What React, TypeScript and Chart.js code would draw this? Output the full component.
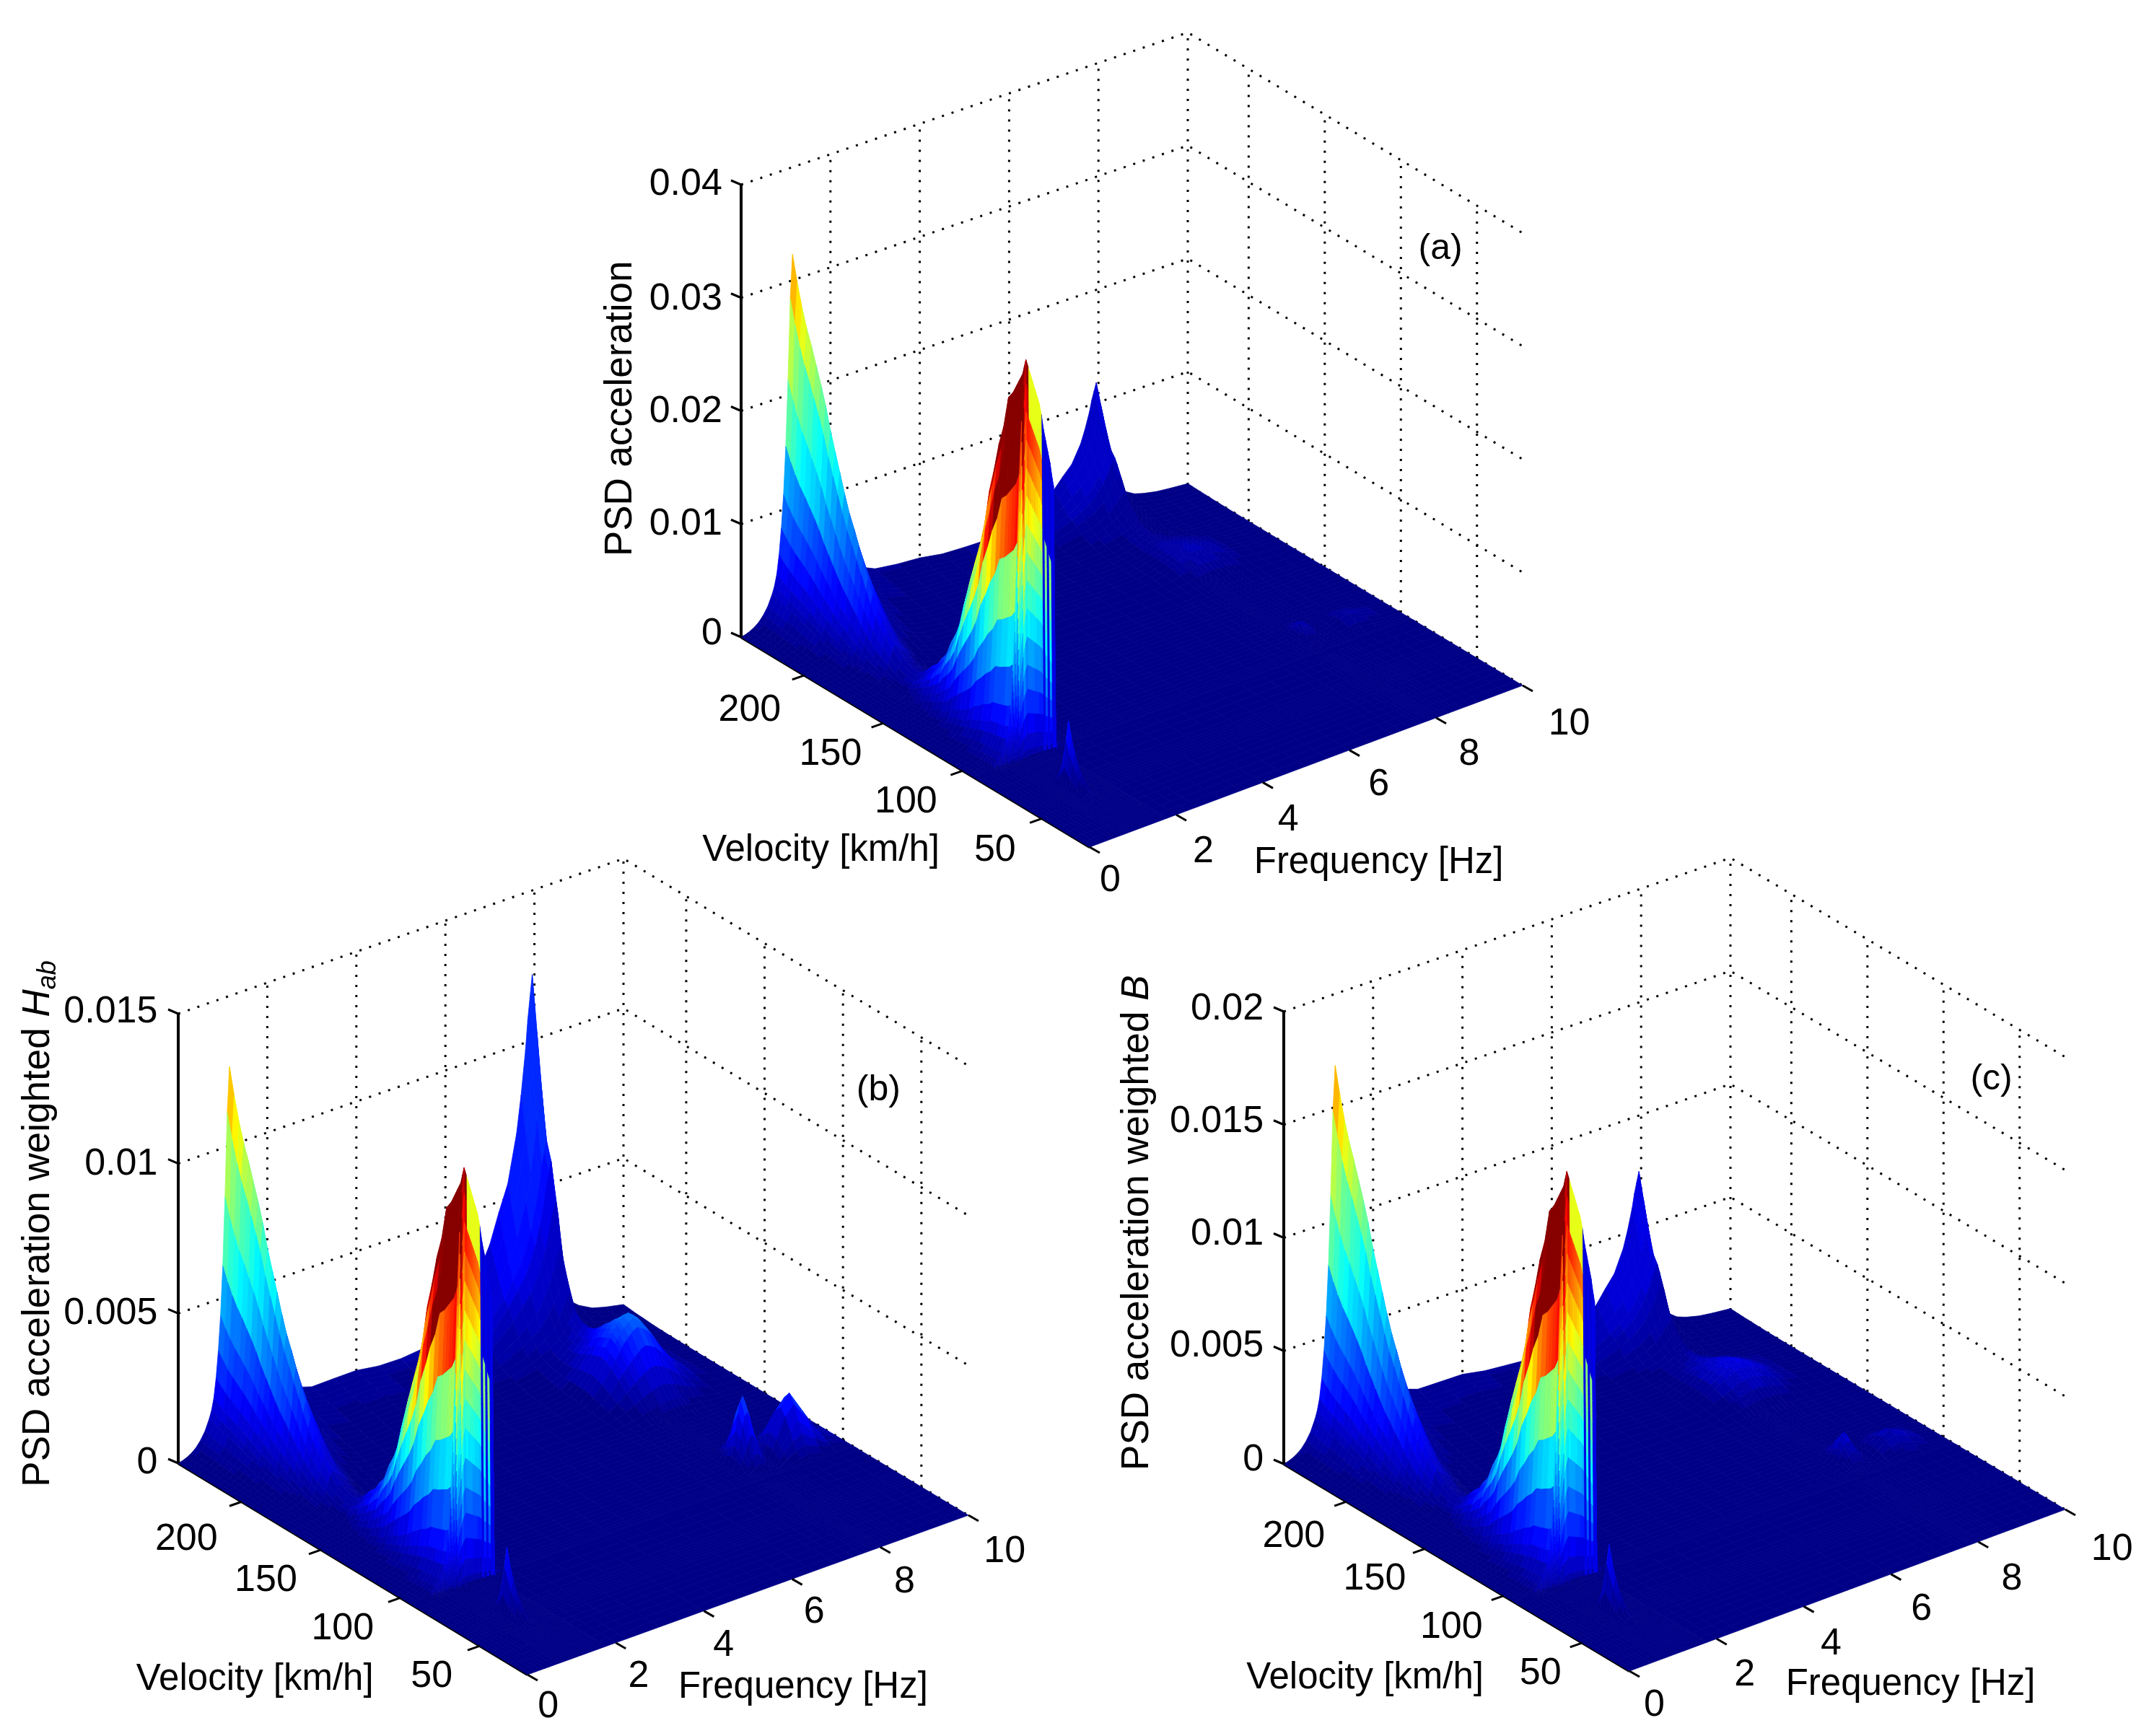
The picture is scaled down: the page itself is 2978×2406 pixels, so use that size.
import React, { useEffect, useRef } from "react";
import { Chart, registerables, ScatterController } from "chart.js";

Chart.register(...registerables);

const W = 2978;
const H = 2406;
const S = W / 1568;
const FONT = '"Liberation Sans", Arial, sans-serif';

/* ---------- mesh ---------- */
const freqGrid = [
  0, 0.1, 0.2, 0.3, 0.4, 0.5, 0.6, 0.7, 0.75, 0.8, 0.85, 0.9, 0.95, 1, 1.05, 1.1, 1.15, 1.2, 1.25, 1.3, 1.35, 1.4, 1.45, 1.5, 1.55, 1.6, 1.65, 1.7, 1.75, 1.78, 1.8,
  2, 2.25, 2.5, 3, 3.5, 4, 4.5, 5, 5.5, 6, 6.5, 7,
  7.2, 7.4, 7.6, 7.7, 7.8, 7.85, 7.9, 7.95, 8, 8.05, 8.1, 8.2, 8.3, 8.41, 8.5, 8.6, 8.8, 9, 9.3, 9.6, 10,
];
const cliffRows = [91.9, 91.8, 91.7, 91.6, 91.5, 91.4, 91.3, 91.2, 91.1, 91, 90.9, 90.8, 90.7, 90.6, 90.5, 90.4];
const velocityGrid = [
  240, 237, 234, 231, 228, 225, 222, 219, 216, 213, 210, 207, 204, 201, 198, 195, 192, 189, 186, 183, 180, 175, 170, 165, 160,
  157, 154, 151, 148, 145, 142, 139, 136, 133, 130, 127, 124, 121, 118, 115, 112, 109, 106, 103, 100, 98, 96, 94, 93, 92,
  ...cliffRows,
  90, 85, 80, 75, 70, 67, 65, 63, 61, 59, 57, 55, 52, 48, 44, 40, 35, 30, 25, 20,
];

/* ---------- frequency profiles (start at the named frequency) ---------- */
const ridge1Freq = [0, 0.003, 0.008, 0.015, 0.025, 0.04, 0.06, 0.09, 0.11, 0.14, 0.19, 0.26, 0.35, 0.48, 0.66, 0.88, 1, 0.93, 0.86, 0.8, 0.74, 0.68, 0.62, 0.57, 0.52, 0.47, 0.42, 0.38, 0.34, 0.31, 0.29, 0.2, 0.12, 0.08, 0.04, 0.02, 0.01];
const ridge2Freq = [0, 0.003, 0.006, 0.01, 0.015, 0.025, 0.04, 0.07, 0.1, 0.15, 0.25, 0.38, 0.55, 0.72, 0.85, 0.94, 1, 0.98, 0.96, 0.94, 0.92, 0.9, 0.88, 0.85, 0.81, 0.78, 0.75, 0.72, 0.68, 0.66, 0.02, 0.01, 0.005];
const ridge3Freq = [0.005, 0.015, 0.04, 0.08, 0.16, 0.3, 0.38, 0.45, 0.58, 0.68, 0.8, 0.88, 0.94, 1, 0.9, 0.75, 0.6, 0.4, 0.28, 0.2, 0.15, 0.11, 0.07, 0.05, 0.03, 0.02, 0.01];
const ridge3FreqStart = 4.5;
const plateauFreq = [0.01, 0.01, 0.01, 0.01, 0.01, 0.01, 0.01, 0.02, 0.05, 0.12, 0.25, 0.55, 0.85, 1, 0.95, 0.8, 0.55, 0.3, 0.12, 0.03];
const plateauFreqStart = 1.5;
const humpFreq = [0.05, 0.15, 0.3, 0.5, 0.6, 0.7, 0.75, 0.8, 0.84, 0.88, 0.92, 0.96, 1, 0.96, 0.9, 0.82, 0.72, 0.5, 0.3, 0.12, 0.03];
const humpFreqStart = 7;
const sharpFreq = [0, 0.15, 0.3, 0.5, 0.75, 0.93, 1, 0.9, 0.55, 0.28, 0.1, 0.03];
const sharpFreqStart = 7.7;
const sideFreq = [0, 0.2, 0.4, 0.8, 1, 0.6, 0.2];
const sideFreqStart = 8.41;
const spikeFreq = [0, 0.3, 0.7, 1, 0.75, 0.45, 0.2, 0.08];
const spikeFreqStart = 1;

/* ---------- velocity profiles (start at the named velocity) ---------- */
const ridge1Vel = [1, 0.93, 0.87, 0.82, 0.78, 0.735, 0.69, 0.64, 0.58, 0.53, 0.48, 0.43, 0.385, 0.35, 0.31, 0.275, 0.235, 0.2, 0.17, 0.145, 0.125, 0.095, 0.07, 0.05, 0.035, 0.028, 0.022, 0.017, 0.013, 0.01, 0.007, 0.005, 0.003, 0.001];
const ridge2Vel = [0.003, 0.006, 0.012, 0.025, 0.04, 0.06, 0.08, 0.095, 0.12, 0.14, 0.18, 0.21, 0.25, 0.315, 0.37, 0.42, 0.47, 0.53, 0.62, 0.68, 0.75, 0.8, 0.88, 0.9, 0.92, 0.94, 0.96, 0.98, 1, 0.94, 0.87, 0.8, 0.73, 0.66, 0.59, 0.52, 0.45, 0.38, 0.31, 0.24, 0.18, 0.12, 0.07, 0.03, 0.015, 0.008, 0.004, 0.002];
const ridge2VelStart = 175;
const ridge3Vel = [1, 0.85, 0.7, 0.57, 0.52, 0.42, 0.3, 0.24, 0.19, 0.15, 0.12, 0.1, 0.08, 0.065, 0.05, 0.04, 0.03, 0.02, 0.015, 0.01, 0.005];
const plateauVel = [1, 0.95, 0.9, 0.85, 0.8, 0.76, 0.72, 0.68, 0.64, 0.6, 0.56, 0.52, 0.48, 0.44, 0.4, 0.36, 0.32, 0.28, 0.25, 0.22, 0.19, 0.15, 0.12, 0.09, 0.06, 0.04, 0.02, 0.01];
const humpVel = [0.1, 0.18, 0.28, 0.4, 0.55, 0.7, 0.82, 0.92, 1, 0.97, 0.9, 0.72, 0.5, 0.3, 0.15, 0.08, 0.03];
const humpVelStart = 210;
const sharpVel = [0.08, 0.2, 0.4, 0.75, 1, 0.8, 0.5, 0.25, 0.12, 0.05];
const sharpVelStart = 121;
const sideVel = [0.08, 0.2, 0.4, 0.65, 0.88, 1, 0.85, 0.6, 0.42, 0.25, 0.12, 0.06, 0.02];
const sideVelStart = 121;
const spikeVel = [0.1, 0.55, 1, 0.75, 0.55, 0.4, 0.28, 0.18, 0.08, 0.02];
const spikeVelStart = 70;

/* ---------- colour gains read along rows and columns ---------- */
const cliffStripColour = [0.08, 0.08, 0.08, 0.08, 0.08, 0.5, 0.5, 0.46, 0.42, 0.38, 0.32, 0.26, 0.2, 0.14, 0.08, 0.04];
const backColumnGain = [1, 1, 1, 1, 1, 1, 1, 1, 1, 1, 1, 1, 1.1, 1.25, 0.95, 1.05, 0.8, 0.95, 0.7, 0.9, 0.7, 0.85, 0.7, 0.08, 0.08, 0.08, 0.08, 0.08, 0.08, 0.08, 0.08];
const cliffColumnGain = [1.3, 1.3, 1.3, 1.3, 1.3, 1.3, 1.3, 1.3, 1.3, 1.3, 1.3, 1.2, 1.4, 1.15, 1.3, 1, 1, 1, 1, 1, 1, 1, 1];
const ridge1ColumnGain = [1, 1, 1, 1, 1, 1, 1, 1, 1, 1, 1, 1, 0.92, 1.05, 0.95, 1.05, 0.92, 1.05, 0.95, 1.05, 0.92, 1.05, 0.95, 0.45, 0.45, 0.42, 0.42, 0.4, 0.4, 0.4, 0.4];
const ridge1RowColour = [1, 1, 1, 1, 1, 1, 1, 1, 1, 1, 1, 1, 1, 1, 1, 1, 1, 1, 1, 1, 1, 0.7, 0.55, 0.4, 0.3, 0.25, 0.2, 0.2, 0.2, 0.2, 0.2, 0.2, 0.2, 0.2];
const ridge3ColourRows = [1, 1, 0.95, 0.85, 0.6, 0.45, 0.35, 0.3, 0.25, 0.2, 0.16, 0.12, 0.1, 0.08, 0.06, 0.04, 0.02];
const ridge3ColourCols = [0, 0.1, 0.2, 0.35, 0.5, 0.7, 0.8, 0.85, 0.9, 0.92, 0.95, 0.97, 1, 1, 0.7, 0.5, 0.35, 0.2, 0.1, 0.05];
const backSlopeGain = 1.45;
const peakShoulderColour = 0.6;
const peakShoulderRows = [96, 94, 93, 92, 91.9, 91.8];

/* ---------- peak heights per panel: ridge1, ridge2, ridge3, plateau, hump, sharp, side, spike ---------- */
const heightsA = [0.0323, 0.0354, 0.0118, 0.0013, 0.0012, 0.0012, 0.0008, 0.0057];
const heightsB = [0.01264, 0.014, 0.0122, 0.0009, 0.0024, 0.0022, 0.0019, 0.0022];
const heightsC = [0.01684, 0.01828, 0.00753, 0.00108, 0.0012, 0.0012, 0.0008, 0.0029];
const colourGainA = [0.72, 0, 0.08, 0.3, 1.5, 1.5, 1.5, 1.3];
const colourGainB = [0.72, 0, 0.17, 0.3, 1.4, 1.4, 1.4, 1.3];
const colourGainC = [0.72, 0, 0.1, 0.3, 1.5, 1.5, 1.5, 1.3];

/* ---------- tick labels ---------- */
const zLabelsA = ["0", "0.01", "0.02", "0.03", "0.04"];
const zTicksA = [0, 0.01, 0.02, 0.03, 0.04];
const zLabelsB = ["0", "0.005", "0.01", "0.015"];
const zTicksB = [0, 0.005, 0.01, 0.015];
const zLabelsC = ["0", "0.005", "0.01", "0.015", "0.02"];
const zTicksC = [0, 0.005, 0.01, 0.015, 0.02];
const freqTicks = [0, 2, 4, 6, 8, 10];
const velTicks = [50, 100, 150, 200];

type Pt = [number, number];
const panels = [
  {
    key: "a", L: [1027, 883] as Pt, F: [1510, 1174] as Pt, R: [2110, 950] as Pt, B: [1646, 672] as Pt, h: 627, zMax: 0.04,
    heights: heightsA, cgain: colourGainA, zLabels: zLabelsA, zTicks: zTicksA,
    zLabelRight: 527, zLabelY: [461, 381, 299, 217, 133],
    velPos: [[726, 619], [661, 584], [606, 549], [547, 517]], freqPos: [[810, 641], [878, 620], [940, 597], [1006, 571], [1072, 549], [1145, 527]],
    velTitle: [599, 619], freqTitle: [1006, 628], tag: "(a)", tagPos: [1051, 180], yTitleX: 453, yTitleStart: 406,
    yTitle: [{ t: "PSD acceleration" }],
  },
  {
    key: "b", L: [247, 2028] as Pt, F: [731, 2321] as Pt, R: [1342, 2100] as Pt, B: [864, 1813] as Pt, h: 623, zMax: 0.015,
    heights: heightsB, cgain: colourGainB, zLabels: zLabelsB, zTicks: zTicksB,
    zLabelRight: 115, zLabelY: [1066, 957, 848, 737],
    velPos: [[315, 1222], [250, 1187], [194, 1152], [136, 1122]], freqPos: [[400, 1244], [466, 1222], [528, 1199], [594, 1175], [660, 1153], [733, 1131]],
    velTitle: [186, 1224], freqTitle: [586, 1230], tag: "(b)", tagPos: [641, 794], yTitleX: 28, yTitleStart: 1085,
    yTitle: [{ t: "PSD acceleration weighted " }, { t: "H", i: true }, { t: "ab", i: true, sub: true }],
  },
  {
    key: "c", L: [1779, 2029] as Pt, F: [2258, 2316] as Pt, R: [2862, 2092] as Pt, B: [2398, 1816] as Pt, h: 627, zMax: 0.02,
    heights: heightsC, cgain: colourGainC, zLabels: zLabelsC, zTicks: zTicksC,
    zLabelRight: 922, zLabelY: [1064, 981, 899, 817, 735],
    velPos: [[1124, 1220], [1059, 1186], [1003, 1151], [944, 1120]], freqPos: [[1207, 1243], [1273, 1221], [1336, 1198], [1402, 1173], [1468, 1151], [1541, 1129]],
    velTitle: [996, 1223], freqTitle: [1394, 1228], tag: "(c)", tagPos: [1453, 786], yTitleX: 830, yTitleStart: 1073,
    yTitle: [{ t: "PSD acceleration weighted " }, { t: "B", i: true }],
  },
];
type Panel = (typeof panels)[number];

/* ---------- helpers ---------- */
const colAt = (values: number[], startF: number, j: number) => {
  const k = j - freqGrid.indexOf(startF);
  return k >= 0 && k < values.length ? values[k] : 0;
};
const rowAt = (values: number[], startV: number, i: number) => {
  const k = i - velocityGrid.indexOf(startV);
  return k >= 0 && k < values.length ? values[k] : 0;
};

function project(p: Panel, f: number, v: number, z: number) {
  const u = f / 10;
  const t = (v - 20) / 220;
  const mix = (k: 0 | 1) => p.F[k] * (1 - u) * (1 - t) + p.R[k] * u * (1 - t) + p.L[k] * (1 - u) * t + p.B[k] * u * t;
  return { x: mix(0), y: mix(1) - (z / p.zMax) * p.h };
}

function jet(c: number) {
  const level = Math.min(63, Math.max(0, Math.floor(c * 64)));
  const q = (level + 0.5) / 64;
  const ch = (d: number) => Math.max(0, Math.min(1, 1.5 - Math.abs(4 * q - d)));
  return `rgb(${Math.round(ch(3) * 255)},${Math.round(ch(2) * 255)},${Math.round(ch(1) * 255)})`;
}

const terms = [
  (i: number, j: number) => rowAt(ridge1Vel, 240, i) * colAt(ridge1Freq, 0, j),
  (i: number, j: number) => rowAt(ridge2Vel, ridge2VelStart, i) * colAt(ridge2Freq, 0, j),
  (i: number, j: number) => rowAt(ridge3Vel, 240, i) * colAt(ridge3Freq, ridge3FreqStart, j),
  (i: number, j: number) => rowAt(plateauVel, 240, i) * colAt(plateauFreq, plateauFreqStart, j),
  (i: number, j: number) => rowAt(humpVel, humpVelStart, i) * colAt(humpFreq, humpFreqStart, j),
  (i: number, j: number) => rowAt(sharpVel, sharpVelStart, i) * colAt(sharpFreq, sharpFreqStart, j),
  (i: number, j: number) => rowAt(sideVel, sideVelStart, i) * colAt(sideFreq, sideFreqStart, j),
  (i: number, j: number) => rowAt(spikeVel, spikeVelStart, i) * colAt(spikeFreq, spikeFreqStart, j),
];

function surfaceDataset(p: Panel) {
  const rows = velocityGrid.length;
  const cols = freqGrid.length;
  const data: { x: number; y: number }[] = [];
  const colours: string[] = [];
  const norm = p.heights[1];
  const firstCliff = velocityGrid.indexOf(cliffRows[0]);
  for (let i = 0; i < rows; i++) {
    for (let j = 0; j < cols; j++) {
      let z = 0;
      terms.forEach((term, k) => (z += term(i, j) * p.heights[k]));
      data.push(project(p, freqGrid[j], velocityGrid[i], z));
    }
  }
  for (let i = 0; i < rows - 1; i++) {
    for (let j = 0; j < cols - 1; j++) {
      const row = i + 1;
      const cliff = row - firstCliff;
      const isCliff = cliff >= 0 && cliff < cliffRows.length;
      const height2 = (terms[1](i, j) + terms[1](row, j)) / 2;
      let c = 0;
      if (peakShoulderRows.includes(velocityGrid[row]) && j >= 17 && j < 23) {
        c = peakShoulderColour;
      } else if (isCliff && j >= 23 && j < 30) {
        c = j === 24 || j === 26 ? cliffStripColour[cliff] : 0.1;
      } else if (isCliff) {
        c = height2 * (cliffColumnGain[j] ?? 0) + (height2 > 0.01 ? 0.02 : 0);
      } else {
        c = height2 * backSlopeGain * (backColumnGain[j] ?? 0);
      }
      terms.forEach((term, k) => {
        if (!p.cgain[k]) return;
        if (k === 0) {
          const back = Math.max(term(i, j), term(i, j + 1));
          c += (p.cgain[0] * back * p.heights[0] * (ridge1ColumnGain[j] ?? 0.4) * rowAt(ridge1RowColour, 240, i)) / norm;
        } else if (k === 2) {
          c += p.cgain[2] * rowAt(ridge3ColourRows, 240, i) * colAt(ridge3ColourCols, ridge3FreqStart, j);
        } else {
          c += (p.cgain[k] * term(row, j) * p.heights[k]) / norm;
        }
      });
      colours.push(jet(c));
    }
  }
  return {
    type: "surface3d", label: `surface ${p.key}`, data, cellColours: colours, gridRows: rows, gridCols: cols,
    pointRadius: 0, pointHoverRadius: 0, showLine: false, order: 2,
  };
}

class SurfaceController extends ScatterController {
  static id = "surface3d";
  static defaults = { datasetElementType: false, dataElementType: "point", showLine: false, fill: false };
  draw() {
    const meta: any = this.getMeta();
    const ds: any = this.getDataset();
    const ctx = this.chart.ctx;
    const sx = meta.xScale;
    const sy = meta.yScale;
    const { gridRows: rows, gridCols: cols, cellColours } = ds;
    const px = (k: number) => {
      const q: any = this.getParsed(k);
      return [sx.getPixelForValue(q.x), sy.getPixelForValue(q.y)];
    };
    ctx.save();
    ctx.lineWidth = 0.8;
    ctx.lineJoin = "bevel";
    for (let i = 0; i < rows - 1; i++) {
      for (let j = cols - 2; j >= 0; j--) {
        const a = px(i * cols + j);
        const b = px(i * cols + j + 1);
        const c = px((i + 1) * cols + j + 1);
        const d = px((i + 1) * cols + j);
        const col = cellColours[i * (cols - 1) + j];
        ctx.fillStyle = col;
        ctx.strokeStyle = col;
        ctx.beginPath();
        ctx.moveTo(a[0], a[1]);
        ctx.lineTo(b[0], b[1]);
        ctx.lineTo(c[0], c[1]);
        ctx.lineTo(d[0], d[1]);
        ctx.closePath();
        ctx.fill();
        ctx.stroke();
      }
    }
    ctx.restore();
  }
}
Chart.register(SurfaceController as any);

const lineDs = (label: string, data: { x: number; y: number }[], width: number, dash: number[], order: number) => ({
  type: "scatter", label, data, showLine: true, borderColor: "#000", backgroundColor: "#000", borderWidth: width, borderDash: dash,
  pointRadius: 0, pointHoverRadius: 0, order, fill: false, tension: 0,
});

function frameDatasets(p: Panel) {
  const out: any[] = [];
  const dots = [3, 11];
  const vMax = 240;
  const vMin = 20;
  p.zTicks.forEach((z) => {
    out.push(lineDs(`${p.key} grid z`, [project(p, 0, vMax, z), project(p, 10, vMax, z), project(p, 10, vMin, z)], 3, dots, 3));
  });
  const top = p.zMax;
  freqTicks.slice(1).forEach((f) => out.push(lineDs(`${p.key} grid f`, [project(p, f, vMax, 0), project(p, f, vMax, top)], 3, dots, 3)));
  velTicks.forEach((v) => out.push(lineDs(`${p.key} grid v`, [project(p, 10, v, 0), project(p, 10, v, top)], 3, dots, 3)));
  out.push(lineDs(`${p.key} z axis`, [project(p, 0, vMax, 0), project(p, 0, vMax, top)], 4, [], 1));
  out.push(lineDs(`${p.key} velocity axis`, [project(p, 0, vMin, 0), project(p, 0, vMax, 0)], 4, [], 3));
  p.zTicks.forEach((z) => {
    const a = project(p, 0, vMax, z);
    out.push(lineDs(`${p.key} tick z`, [a, { x: a.x - 14, y: a.y - 6 }], 3, [], 1));
  });
  velTicks.forEach((v) => {
    const a = project(p, 0, v, 0);
    out.push(lineDs(`${p.key} tick v`, [a, { x: a.x - 17, y: a.y + 6 }], 3, [], 1));
  });
  freqTicks.forEach((f) => {
    const a = project(p, f, vMin, 0);
    out.push(lineDs(`${p.key} tick f`, [a, { x: a.x + 14, y: a.y + 8 }], 3, [], 1));
  });
  return out;
}

const textPlugin = {
  id: "panelText",
  afterDraw(chart: any) {
    const ctx: CanvasRenderingContext2D = chart.ctx;
    ctx.save();
    ctx.fillStyle = "#000";
    const put = (t: string, x: number, y: number, align: CanvasTextAlign, size: number) => {
      ctx.font = `${size}px ${FONT}`;
      ctx.textAlign = align;
      ctx.textBaseline = "middle";
      ctx.fillText(t, x * S, y * S + 3);
    };
    panels.forEach((p) => {
      p.zLabels.forEach((t, k) => put(t, p.zLabelRight, p.zLabelY[k], "right", 52));
      velTicks.forEach((v, k) => put(String(v), p.velPos[k][0], p.velPos[k][1], "center", 52));
      freqTicks.forEach((f, k) => put(String(f), p.freqPos[k][0], p.freqPos[k][1], "center", 52));
      put("Velocity [km/h]", p.velTitle[0], p.velTitle[1], "center", 51);
      put("Frequency [Hz]", p.freqTitle[0], p.freqTitle[1], "center", 51);
      put(p.tag, p.tagPos[0], p.tagPos[1], "center", 50);
      ctx.save();
      ctx.translate(p.yTitleX * S, p.yTitleStart * S);
      ctx.rotate(-Math.PI / 2);
      ctx.textAlign = "left";
      ctx.textBaseline = "middle";
      let cursor = 0;
      (p.yTitle as any[]).forEach((run) => {
        const size = run.sub ? 36 : 53;
        ctx.font = `${run.i ? "italic " : ""}${size}px ${FONT}`;
        ctx.fillText(run.t, cursor, run.sub ? 14 : 0);
        cursor += ctx.measureText(run.t).width;
      });
      ctx.restore();
    });
    ctx.restore();
  },
};

export default function App() {
  const ref = useRef<HTMLCanvasElement>(null);
  useEffect(() => {
    if (!ref.current) return;
    const datasets: any[] = [];
    panels.forEach((p) => {
      datasets.push(...frameDatasets(p));
      datasets.push(surfaceDataset(p));
    });
    const chart = new Chart(ref.current, {
      type: "scatter",
      data: { datasets },
      options: {
        animation: false,
        responsive: false,
        devicePixelRatio: 1,
        layout: { padding: 0 },
        events: [],
        plugins: { legend: { display: false }, tooltip: { enabled: false }, title: { display: false } },
        scales: {
          x: { type: "linear", min: 0, max: W, display: false },
          y: { type: "linear", min: 0, max: H, reverse: true, display: false },
        },
      },
      plugins: [textPlugin],
    } as any);
    return () => chart.destroy();
  }, []);
  return (
    <div style={{ position: "absolute", left: 0, top: 0, width: W, height: H, background: "#fff" }}>
      <canvas ref={ref} width={W} height={H} style={{ display: "block" }} />
    </div>
  );
}
